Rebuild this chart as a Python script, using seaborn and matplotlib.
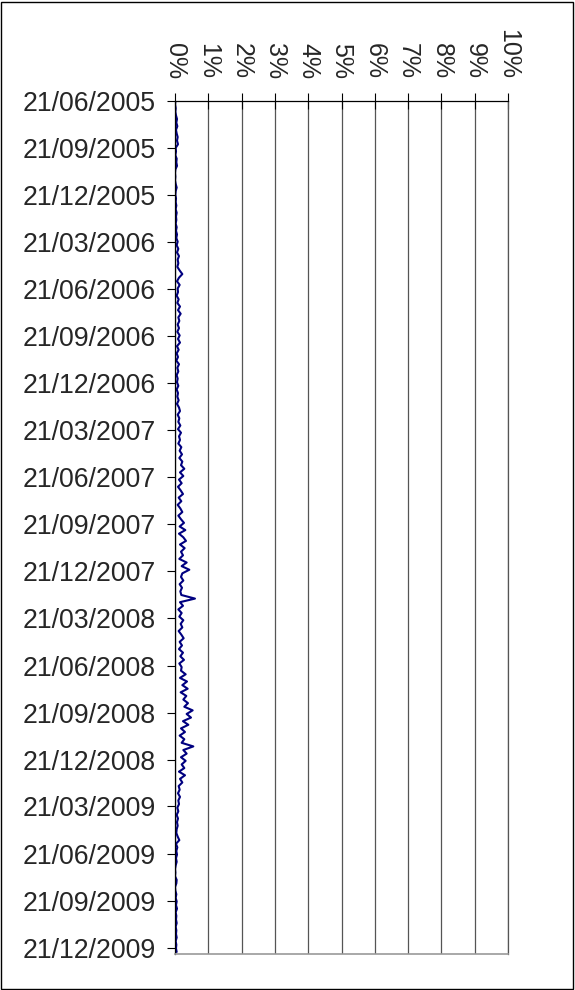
import matplotlib
matplotlib.use("Agg")
import matplotlib.pyplot as plt
from matplotlib.patches import Rectangle
import numpy as np
import pandas as pd
import seaborn as sns

# Weekly rate (%), starting 21/06/2005
start_date = "2005-06-21"
rate_pct = [
    0.01, 0.00, 0.02, 0.01, 0.03,
    0.06, 0.04, 0.07, 0.03, 0.05, 0.08, 0.06, 0.09,
    0.02, 0.03, 0.01,
    0.05, 0.04, 0.06,
    0.01, 0.00, 0.01, 0.00, 0.02,
    0.05,
    0.02, 0.01, 0.03, 0.02,
    0.04, 0.02, 0.05, 0.03, 0.04, 0.02,
    0.05, 0.03,
    0.06, 0.04, 0.08, 0.05, 0.10, 0.06, 0.12, 0.08, 0.10, 0.07, 0.14,
    0.22,
    0.12, 0.06, 0.14, 0.08,
    0.09, 0.05, 0.11, 0.07, 0.15, 0.09, 0.17, 0.10, 0.13, 0.08,
    0.12, 0.07, 0.14, 0.09, 0.15, 0.06, 0.11,
    0.05, 0.09, 0.04, 0.12, 0.07, 0.10, 0.05, 0.08,
    0.06, 0.10, 0.05, 0.09, 0.07, 0.11, 0.06, 0.12,
    0.15, 0.08, 0.13,
    0.10, 0.16, 0.09, 0.18, 0.12, 0.15, 0.10, 0.19,
    0.14, 0.21, 0.13, 0.22,
    0.18, 0.28, 0.15, 0.25,
    0.12, 0.20, 0.09, 0.17, 0.24, 0.11, 0.19, 0.08, 0.16, 0.22, 0.10, 0.18,
    0.27, 0.14, 0.31, 0.12, 0.25, 0.33, 0.15, 0.29, 0.18, 0.24, 0.13,
    0.35, 0.20, 0.43, 0.22,
    0.18, 0.25, 0.14, 0.21, 0.16, 0.19,
    0.60,
    0.15, 0.24, 0.10, 0.20, 0.13, 0.25, 0.17, 0.22, 0.11, 0.19,
    0.26, 0.14, 0.21, 0.12, 0.24, 0.16, 0.27, 0.13, 0.20,
    0.18, 0.32, 0.15, 0.36, 0.22, 0.38, 0.17, 0.34, 0.25, 0.39,
    0.28, 0.53, 0.35, 0.48, 0.24, 0.40,
    0.18, 0.30, 0.14, 0.28, 0.20,
    0.55,
    0.25, 0.35, 0.18, 0.32, 0.20,
    0.28, 0.12, 0.30, 0.15, 0.22, 0.11,
    0.14, 0.09, 0.15, 0.10, 0.12,
    0.07, 0.10, 0.05, 0.09, 0.06, 0.08, 0.05,
    0.04, 0.08, 0.13, 0.03, 0.07, 0.04, 0.06, 0.03,
    0.05, 0.02,
    0.00, 0.01, 0.00,
    0.05, 0.04,
    0.00, 0.01,
    0.04, 0.02, 0.05, 0.03, 0.06, 0.02, 0.04, 0.03, 0.05,
    0.02, 0.04, 0.03, 0.05, 0.02, 0.04, 0.03, 0.05,
]
pct_ticks = list(range(0, 11))
pct_labels = [f"{p}%" for p in pct_ticks]
date_tick_labels = [
    "21/06/2005", "21/09/2005", "21/12/2005", "21/03/2006", "21/06/2006",
    "21/09/2006", "21/12/2006", "21/03/2007", "21/06/2007", "21/09/2007",
    "21/12/2007", "21/03/2008", "21/06/2008", "21/09/2008", "21/12/2008",
    "21/03/2009", "21/06/2009", "21/09/2009", "21/12/2009",
]

df = pd.DataFrame({
    "date": pd.date_range(start_date, periods=len(rate_pct), freq="7D"),
    "rate": rate_pct,
})
tick_dates = pd.to_datetime(date_tick_labels, format="%d/%m/%Y")

sns.set_style("white")
plt.rcParams["font.family"] = ["Liberation Sans", "DejaVu Sans"]

fig = plt.figure(figsize=(5.75, 9.9), dpi=100)
ax = fig.add_axes([175 / 575, 1 - 954 / 990, 333 / 575, (954 - 101) / 990])

sns.lineplot(data=df, x="rate", y="date", orient="y", sort=False,
             estimator=None, color="#000080", linewidth=1.5, ax=ax)

ax.set_xlim(0, 10)
ax.set_ylim(pd.Timestamp("2010-01-02"), pd.Timestamp(start_date))

# top percentage axis
ax.xaxis.set_ticks_position("top")
ax.xaxis.set_label_position("top")
ax.set_xticks(pct_ticks)
ax.set_xticklabels(pct_labels, rotation=270, ha="center", va="bottom",
                   fontsize=18)
ax.tick_params(axis="x", direction="inout", length=11.5, width=0.8,
               color="black", pad=10, top=True, bottom=False)

# date axis
ax.set_yticks(tick_dates)
ax.set_yticklabels(date_tick_labels, fontsize=19.2)
ax.tick_params(axis="y", direction="out", length=6, width=0.8,
               color="black", pad=8, left=True)

ax.set_xlabel("")
ax.set_ylabel("")

ax.grid(False)
ax.xaxis.grid(True, color="#555555", linewidth=0.9)
ax.set_axisbelow(True)

for side in ["top", "left"]:
    ax.spines[side].set_color("black")
    ax.spines[side].set_linewidth(0.9)
ax.spines["right"].set_color("#555555")
ax.spines["right"].set_linewidth(0.9)
ax.spines["bottom"].set_color("#999999")
ax.spines["bottom"].set_linewidth(1.2)

fig.patches.append(Rectangle((1 / 575, 1 / 990), 572 / 575, 987 / 990,
                             transform=fig.transFigure, fill=False,
                             edgecolor="black", linewidth=1.0))

fig.savefig("out.png", dpi=100, facecolor="white")
